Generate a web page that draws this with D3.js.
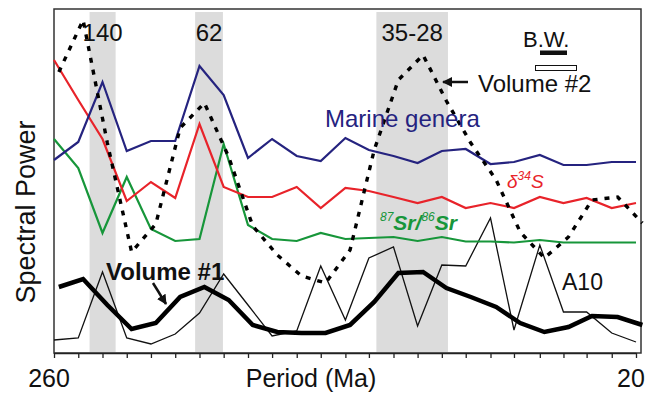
<!DOCTYPE html>
<html>
<head>
<meta charset="utf-8">
<script src="https://cdn.jsdelivr.net/npm/d3@7"></script>
<style>
  body { margin: 0; background: #fff; }
  svg text { font-family: "Liberation Sans", Arial, sans-serif; }
</style>
</head>
<body>
<svg id="chart" width="654" height="397"></svg>
<script>
"use strict";

// spectral grid: harmonics of a 520 Myr record, period in Ma
const periods = [260, 173.3, 130, 104, 86.7, 74.3, 65, 57.8, 52, 47.3, 43.3, 40, 37.1,
                 34.7, 32.5, 30.6, 28.9, 27.4, 26, 24.8, 23.6, 22.6, 21.7, 20.8, 20];
// volume curves are sampled on a slightly shifted grid
const volumePeriods = [236.4, 162.5, 123.8, 100, 83.9, 72.2, 63.4, 56.5, 51.0, 46.4, 42.6, 39.4, 36.6,
                       34.2, 32.1, 30.2, 28.6, 27.1, 25.7, 24.5, 23.4, 22.4, 21.5, 20.6, 19.8];

// relative spectral power (arbitrary units)
const marineGenera = [193, 211, 271, 202, 212, 212, 287, 258, 195, 214, 197, 192, 215,
                      203, 197, 190, 202, 204, 189, 191, 198, 188, 188, 191, 191];
const sulfur34 = [293, 253, 214, 152, 171, 155, 229, 166, 156, 156, 166, 145, 165,
                  162, 156, 150, 156, 145, 150, 145, 156, 150, 155, 145, 150];
const strontium = [214, 185, 120, 176, 124, 112, 114, 209, 128, 114, 112, 120, 114,
                   115, 116, 112, 116, 111.5, 111.5, 110.5, 113, 110.5, 110.5, 110.5, 110.5];
const a10 = [13, 15, 81, 15, 9, 19, 40, 79, 48, 17, 22, 87, 33,
             95, 106, 27, 88, 87, 135, 23, 108, 41, 41, 20, 11];
const volume1 = [66, 74, 48, 24, 30, 56, 66, 53, 28, 21, 20, 20, 28,
                 51, 80, 81, 65, 56, 46, 30, 21, 26, 37, 36, 28];
const volume2 = [281, 333, 210, 101, 129, 225, 250, 196, 127, 98, 77, 70, 103,
                 203, 273, 298, 252, 210, 173, 121, 95, 116, 153, 156, 130];

// highlighted period bands [from, to] in Ma, with labels
const bands = [[150, 114.5], [66.5, 58], [34, 28.5]];
const bandLabels = ["140", "62", "35-28"];

const svg = d3.select("#chart");
const margin = {left: 54, right: 636, top: 9, bottom: 353};

// x axis is linear in frequency (1/period)
const xScale = d3.scaleLinear().domain([1 / 260, 1 / 20]).range([margin.left, margin.right]);
const yScale = d3.scaleLinear().domain([0, 344]).range([margin.bottom, margin.top]);
const xp = p => xScale(1 / p);

/* gray bands */
svg.append("g").selectAll("rect")
  .data(bands).enter().append("rect")
  .attr("x", d => xp(d[0]))
  .attr("width", d => xp(d[1]) - xp(d[0]))
  .attr("y", 12)
  .attr("height", margin.bottom - 13)
  .attr("fill", "#dcdcdc");

/* frame */
svg.append("rect")
  .attr("x", margin.left).attr("y", margin.top)
  .attr("width", 641 - margin.left).attr("height", margin.bottom - margin.top)
  .attr("fill", "none").attr("stroke", "#333").attr("stroke-width", 1.5);

/* bottom axis, ticks only */
const axis = d3.axisBottom(xScale)
  .tickValues(periods.map(p => 1 / p))
  .tickSize(5).tickSizeOuter(0).tickFormat("");
svg.append("g")
  .attr("transform", `translate(0,${margin.bottom})`)
  .call(axis)
  .call(g => g.select(".domain").attr("stroke", "#222").attr("stroke-width", 1.5))
  .call(g => g.selectAll(".tick line").attr("stroke", "#222").attr("stroke-width", 1.3));

function drawSeries(values, xs, color, width, dash) {
  const line = d3.line()
    .x((d, i) => xp(xs[i]))
    .y(d => yScale(d));
  svg.append("path")
    .datum(values)
    .attr("d", line)
    .attr("fill", "none")
    .attr("stroke", color)
    .attr("stroke-width", width)
    .attr("stroke-linejoin", "miter")
    .attr("stroke-dasharray", dash || null);
}

drawSeries(a10, periods, "#111", 1.3);
drawSeries(volume1, volumePeriods, "#000", 4.5);
drawSeries(strontium, periods, "#17963a", 2.2);
drawSeries(sulfur34, periods, "#e8232a", 2.2);
drawSeries(marineGenera, periods, "#25237f", 2.2);
drawSeries(volume2, volumePeriods, "#000", 3.4, "5,7");

/* band labels */
svg.append("g").selectAll("text")
  .data(bands).enter().append("text")
  .attr("x", d => (xp(d[0]) + xp(d[1])) / 2)
  .attr("y", 41)
  .attr("text-anchor", "middle")
  .attr("font-size", 24)
  .attr("fill", "#111")
  .text((d, i) => bandLabels[i]);

/* bandwidth legend */
svg.append("text").attr("x", 523).attr("y", 47).attr("font-size", 22).attr("fill", "#111").text("B.W.");
svg.append("rect").attr("x", 540).attr("y", 50.5).attr("width", 27).attr("height", 4.5).attr("fill", "#111");
svg.append("rect").attr("x", 535.5).attr("y", 65.5).attr("width", 41).attr("height", 5)
  .attr("fill", "#fff").attr("stroke", "#111").attr("stroke-width", 1);

/* arrows */
svg.append("defs").append("marker")
  .attr("id", "head").attr("viewBox", "0 0 10 10")
  .attr("refX", 9).attr("refY", 5)
  .attr("markerWidth", 4).attr("markerHeight", 4)
  .attr("orient", "auto")
  .append("path").attr("d", "M0,0 L10,5 L0,10 z").attr("fill", "#111");

svg.append("line").attr("x1", 468).attr("y1", 82).attr("x2", 443).attr("y2", 82)
  .attr("stroke", "#111").attr("stroke-width", 2.5).attr("marker-end", "url(#head)");
svg.append("line").attr("x1", 153).attr("y1", 283).attr("x2", 166).attr("y2", 304)
  .attr("stroke", "#111").attr("stroke-width", 2.5).attr("marker-end", "url(#head)");

/* series labels */
svg.append("text").attr("x", 478).attr("y", 92).attr("font-size", 24).attr("fill", "#111").text("Volume #2");
svg.append("text").attr("x", 325).attr("y", 127).attr("font-size", 24).attr("fill", "#25237f").text("Marine genera");
svg.append("text").attr("x", 106).attr("y", 280).attr("font-size", 24).attr("font-weight", "bold")
  .attr("fill", "#111").text("Volume #1");
svg.append("text").attr("x", 562).attr("y", 290).attr("font-size", 23).attr("fill", "#111").text("A10");

const s34 = svg.append("text").attr("x", 507).attr("y", 188).attr("font-size", 19)
  .attr("font-style", "italic").attr("fill", "#e8232a");
s34.append("tspan").text("δ");
s34.append("tspan").attr("font-size", 12).attr("dy", -8).text("34");
s34.append("tspan").attr("dy", 8).text("S");

const sr = svg.append("text").attr("x", 380).attr("y", 230).attr("font-size", 21)
  .attr("font-style", "italic").attr("font-weight", "bold").attr("fill", "#17963a");
sr.append("tspan").attr("font-size", 12).attr("font-weight", "normal").attr("dy", -9).text("87");
sr.append("tspan").attr("dy", 9).text("Sr/");
sr.append("tspan").attr("font-size", 12).attr("font-weight", "normal").attr("dy", -9).text("86");
sr.append("tspan").attr("dy", 9).text("Sr");

/* axis titles */
svg.append("text").attr("x", xp(260) - 5).attr("y", 387).attr("text-anchor", "middle")
  .attr("font-size", 25).attr("fill", "#111").text("260");
svg.append("text").attr("x", xp(20) - 5).attr("y", 387).attr("text-anchor", "middle")
  .attr("font-size", 25).attr("fill", "#111").text("20");
svg.append("text").attr("x", 311).attr("y", 387).attr("text-anchor", "middle")
  .attr("font-size", 25).attr("fill", "#111").text("Period (Ma)");
svg.append("text")
  .attr("transform", "translate(35,212) rotate(-90)")
  .attr("text-anchor", "middle")
  .attr("font-size", 27).attr("fill", "#111").text("Spectral Power");
</script>
</body>
</html>
